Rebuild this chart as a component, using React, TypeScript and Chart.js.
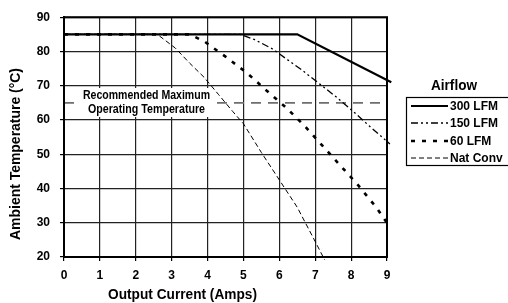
import React, { useEffect, useRef } from "react";
import { Chart, registerables } from "chart.js";

Chart.register(...registerables);

// Series data (x = Output Current in Amps, y = Ambient Temperature °C)
const LFM300_X = [0, 6.5, 9.12];
const LFM300_Y = [85, 85, 71];

const LFM150_X = [0, 4.9, 5.3, 5.8, 6.2, 6.6, 7.2, 7.6, 8.1, 8.5, 9.08];
const LFM150_Y = [85, 85, 83.5, 80.8, 77.8, 74.8, 69.9, 66.6, 62.1, 58.3, 53];

const LFM60_X = [0, 3.5, 3.9, 4.5, 5.1, 5.6, 6.2, 6.7, 7.2, 7.7, 8.2, 8.7, 9.08];
const LFM60_Y = [85, 85, 83, 78.5, 73.7, 69, 63.5, 58.3, 52.5, 46.7, 40.9, 34.5, 28.7];

const NATCONV_X = [0, 2.6, 3.1, 3.5, 3.9, 4.3, 4.7, 5.0, 5.5, 6.0, 6.5, 7.0, 7.28];
const NATCONV_Y = [85, 85, 81, 76.6, 72.5, 67.5, 62.5, 58.9, 50.5, 42.5, 34.5, 24.5, 18.8];

const RECOMMENDED_MAX = 65;

const SERIES_LABELS = ["300 LFM", "150 LFM", "60 LFM", "Nat Conv"];
const X_TICKS = [0, 1, 2, 3, 4, 5, 6, 7, 8, 9];
const Y_TICKS = [20, 30, 40, 50, 60, 70, 80, 90];

const LEGEND_TITLE = "Airflow";
const ANNOTATION_LINES = ["Recommended Maximum", "Operating Temperature"];
const X_TITLE = "Output Current (Amps)";
const Y_TITLE = "Ambient Temperature (°C)";

const zip = (xs: number[], ys: number[]) => xs.map((x, i) => ({ x, y: ys[i] }));

const FONT = "'Liberation Sans', Arial, sans-serif";

function fitText(ctx: CanvasRenderingContext2D, text: string, x: number, y: number, width: number) {
  const w = ctx.measureText(text).width;
  ctx.save();
  ctx.translate(x, y);
  ctx.scale(width / w, 1);
  ctx.fillText(text, 0, 0);
  ctx.restore();
}

export default function App() {
  const ref = useRef<HTMLCanvasElement | null>(null);

  useEffect(() => {
    if (!ref.current) return;

    const styles = [
      { color: "#000", width: 2.2, dash: [] as number[] },
      { color: "#000", width: 1.3, dash: [7, 3, 2, 3, 2, 3] },
      { color: "#000", width: 2.6, dash: [4, 7] },
      { color: "#000", width: 1, dash: [5, 3] },
    ];

    const overlay = {
      id: "overlay",
      afterDatasetsDraw(chart: any) {
        const ctx: CanvasRenderingContext2D = chart.ctx;
        const area = chart.chartArea;
        // frame
        ctx.save();
        ctx.strokeStyle = "#000";
        ctx.lineWidth = 2;
        ctx.strokeRect(area.left, area.top, area.right - area.left, area.bottom - area.top);

        // annotation box
        ctx.fillStyle = "#fff";
        ctx.fillRect(81, 88, 132, 29);
        ctx.fillStyle = "#000";
        ctx.font = `bold 12px ${FONT}`;
        ctx.textBaseline = "middle";
        ctx.textAlign = "left";
        fitText(ctx, ANNOTATION_LINES[0], 83, 95.5, 127);
        fitText(ctx, ANNOTATION_LINES[1], 88, 109.5, 117);

        // axis titles
        ctx.font = `bold 15px ${FONT}`;
        fitText(ctx, X_TITLE, 108, 295, 149);
        ctx.save();
        ctx.translate(16, 240);
        ctx.rotate(-Math.PI / 2);
        fitText(ctx, Y_TITLE, 0, 0, 172);
        ctx.restore();

        // legend
        ctx.font = `bold 15px ${FONT}`;
        fitText(ctx, LEGEND_TITLE, 431, 86, 46);
        ctx.strokeStyle = "#000";
        ctx.lineWidth = 1.2;
        ctx.setLineDash([]);
        ctx.strokeRect(406.5, 97.5, 110, 68);
        ctx.font = `bold 12px ${FONT}`;
        const rows = [106, 123, 141, 158];
        SERIES_LABELS.forEach((label, i) => {
          const s = styles[i];
          ctx.beginPath();
          ctx.setLineDash(s.dash);
          ctx.lineWidth = s.width;
          ctx.moveTo(411, rows[i]);
          ctx.lineTo(448, rows[i]);
          ctx.stroke();
          ctx.setLineDash([]);
          ctx.fillText(label, 450, rows[i] + 0.5);
        });
        ctx.restore();
      },
    };

    const chart = new Chart(ref.current, {
      type: "line",
      data: {
        datasets: [
          {
            label: "Recommended",
            data: zip([0, 9], [RECOMMENDED_MAX, RECOMMENDED_MAX]),
            borderColor: "#6e6e6e",
            borderWidth: 1.6,
            borderDash: [10, 7],
            pointRadius: 0,
            order: 10,
          },
          ...[
            zip(LFM300_X, LFM300_Y),
            zip(LFM150_X, LFM150_Y),
            zip(LFM60_X, LFM60_Y),
            zip(NATCONV_X, NATCONV_Y),
          ].map((d, i) => ({
            label: SERIES_LABELS[i],
            data: d,
            borderColor: styles[i].color,
            borderWidth: styles[i].width,
            borderDash: styles[i].dash,
            pointRadius: 0,
            tension: 0,
            clip: { left: 0, top: 0, right: 6, bottom: 3 },
            order: i,
          })),
        ],
      },
      options: {
        animation: false,
        responsive: false,
        devicePixelRatio: 1,
        layout: { padding: { top: 16, right: 121, left: 0, bottom: 0 } },
        plugins: { legend: { display: false }, tooltip: { enabled: false } },
        scales: {
          x: {
            type: "linear",
            min: 0,
            max: 9,
            afterFit: (s: any) => {
              s.height = 46;
            },
            afterBuildTicks: (s: any) => {
              s.ticks = X_TICKS.map((v) => ({ value: v }));
            },
            ticks: {
              color: "#000",
              font: { family: FONT, size: 12, weight: "bold" },
              padding: 7,
              maxRotation: 0,
            },
            grid: { color: "#222", lineWidth: 1.2, tickLength: 4, tickColor: "#000" },
            border: { color: "#000", width: 2 },
          },
          y: {
            type: "linear",
            min: 20,
            max: 90,
            afterFit: (s: any) => {
              s.width = 64;
            },
            afterBuildTicks: (s: any) => {
              s.ticks = Y_TICKS.map((v) => ({ value: v }));
            },
            ticks: {
              color: "#000",
              font: { family: FONT, size: 12, weight: "bold" },
              padding: 10,
            },
            grid: { color: "#222", lineWidth: 1.2, tickLength: 4, tickColor: "#000" },
            border: { color: "#000", width: 2 },
          },
        },
      },
      plugins: [overlay],
    } as any);

    return () => chart.destroy();
  }, []);

  return (
    <div style={{ position: "fixed", left: 0, top: 0, width: 508, height: 303, background: "#fff" }}>
      <canvas ref={ref} width={508} height={303} style={{ width: 508, height: 303, display: "block" }} />
    </div>
  );
}
